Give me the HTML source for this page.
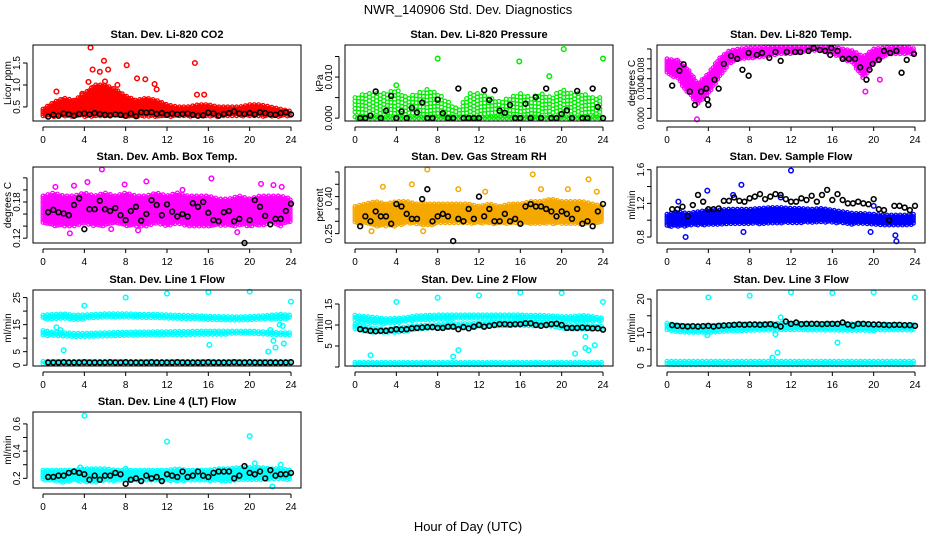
<!DOCTYPE html>
<html><head><meta charset="utf-8"><style>
html,body{margin:0;padding:0;background:#fff;}
svg{display:block;font-family:"Liberation Sans",sans-serif;}
</style></head><body>
<svg id="chart" width="936" height="540" viewBox="0 0 936 540">
<text x="468" y="14" text-anchor="middle" font-size="13">NWR_140906  Std. Dev. Diagnostics</text>
<text x="468" y="531" text-anchor="middle" font-size="13">Hour of Day (UTC)</text>
</svg>
<script>
// ---- data (hourly band limits 0..24, outliers, black half-hourly points) ----
const xTicks = [0,4,8,12,16,20,24];
const halfHours = [0.5,1,1.5,2,2.5,3,3.5,4,4.5,5,5.5,6,6.5,7,7.5,8,8.5,9,9.5,10,10.5,11,11.5,12,12.5,13,13.5,14,14.5,15,15.5,16,16.5,17,17.5,18,18.5,19,19.5,20,20.5,21,21.5,22,22.5,23,23.5,24];

const co2Lo = [0.28,0.28,0.28,0.28,0.28,0.28,0.28,0.28,0.28,0.28,0.28,0.28,0.28,0.28,0.28,0.28,0.28,0.28,0.28,0.28,0.28,0.28,0.28,0.28,0.28];
const co2Hi = [0.45,0.6,0.7,0.65,0.8,1.0,1.0,0.9,0.75,0.65,0.7,0.65,0.55,0.5,0.5,0.55,0.55,0.5,0.5,0.5,0.55,0.55,0.5,0.45,0.4];
const co2OutX = [1.3,4.6,4.8,5.5,5.9,6.3,8.1,9.1,9.9,10.8,14.7,14.9,15.6,11,3.8,4.4,6.0,7.2];
const co2OutY = [0.85,1.85,1.35,1.3,1.55,1.35,1.45,1.15,1.13,1.02,1.5,0.78,0.78,0.9,0.8,1.07,1.08,1.0];
const co2Black = [0.28,0.32,0.30,0.35,0.33,0.30,0.34,0.35,0.33,0.36,0.34,0.32,0.31,0.33,0.32,0.30,0.35,0.29,0.38,0.37,0.38,0.34,0.36,0.32,0.35,0.33,0.34,0.35,0.32,0.30,0.31,0.37,0.35,0.30,0.34,0.36,0.40,0.35,0.34,0.36,0.33,0.38,0.36,0.33,0.32,0.36,0.38,0.33];

const presLo = [0.0008,0.0008,0.0008,0.0008,0.0008,0.0008,0.0008,0.0008,0.0008,0.0008,0.0008,0.0008,0.0008,0.0008,0.0008,0.0008,0.0008,0.0008,0.0008,0.0008,0.0008,0.0008,0.0008,0.0008,0.0008];
const presHi = [0.005,0.006,0.006,0.006,0.007,0.005,0.006,0.007,0.006,0.004,0.002,0.006,0.006,0.005,0.004,0.005,0.006,0.005,0.006,0.005,0.007,0.006,0.006,0.005,0.005];
const presBaseLo = [-0.0002,-0.0002,-0.0002,-0.0002,-0.0002,-0.0002,-0.0002,-0.0002,-0.0002,-0.0002,-0.0002,-0.0002,-0.0002,-0.0002,-0.0002,-0.0002,-0.0002,-0.0002,-0.0002,-0.0002,-0.0002,-0.0002,-0.0002,-0.0002,-0.0002];
const presBaseHi = [0.0003,0.0003,0.0003,0.0003,0.0003,0.0003,0.0003,0.0003,0.0003,0.0003,0.0003,0.0003,0.0003,0.0003,0.0003,0.0003,0.0003,0.0003,0.0003,0.0003,0.0003,0.0003,0.0003,0.0003,0.0003];
const presOutX = [8,15.9,18.8,20.2,24,4];
const presOutY = [0.0145,0.0138,0.0102,0.0168,0.0145,0.008];
const presBlack = [0,0,0.0006,0.0065,0,0.0018,0.0054,0,0.0016,0,0.0025,0.0014,0.0038,0,0,0.0045,0.0012,0,0,0.0072,0,0,0,0,0.0068,0.0044,0.0068,0.0018,0.0013,0.0032,0,0,0.0035,0,0.0051,0,0.0072,0,0,0.0010,0.0019,0,0.0066,0,0,0.0072,0.0027,0];

const tempLo = [4.5,4.0,2.5,1.5,2.5,4.0,5.5,6.0,6.0,6.2,6.3,6.5,6.5,6.6,6.8,6.8,6.5,6.0,5.5,4.0,5.5,6.3,6.5,6.5,6.5];
const tempHi = [6.0,5.8,5.0,3.5,4.5,6.0,6.8,7.0,7.1,7.1,7.2,7.2,7.2,7.2,7.2,7.2,7.2,7.0,6.8,6.2,7.0,7.1,7.2,7.2,7.0];
const tempOutX = [2.9,19.2,20.6,0.2,1.0];
const tempOutY = [-0.1,2.7,3.9,5.5,5.8];
const tempBlackX = [0.5,1.2,1.6,2.2,2.7,3.3,3.8,3.9,4.0,4.6,5.0,5.5,6.2,6.8,7.3,7.9,7.9,8.7,9.2,9.9,10.5,11.0,11.6,12.4,12.9,13.7,14.2,14.8,15.3,15.8,15.9,16.5,17.0,17.6,18.2,18.7,19.3,19.6,19.9,20.5,21.0,21.6,22.2,22.7,23.2,23.9];
const tempBlackY = [3.3,4.8,5.45,2.7,1.35,2.7,3.0,1.9,1.35,3.9,3.0,5.5,6.3,6.0,4.9,4.3,6.6,6.4,6.6,6.1,6.7,5.8,6.7,6.7,6.7,6.8,7.1,6.9,6.8,6.4,7.1,6.8,6.0,6.0,6.0,5.15,3.9,4.9,5.5,5.9,6.8,6.6,6.8,4.6,5.9,6.5];

const ambLo = [0.145,0.14,0.14,0.14,0.145,0.14,0.14,0.145,0.14,0.14,0.14,0.145,0.14,0.145,0.14,0.14,0.14,0.14,0.14,0.14,0.14,0.14,0.145,0.14,0.145];
const ambHi = [0.19,0.195,0.19,0.19,0.195,0.19,0.195,0.19,0.195,0.19,0.19,0.195,0.19,0.195,0.19,0.19,0.19,0.185,0.185,0.19,0.185,0.19,0.19,0.19,0.185];
const ambOutX = [5.7,10.0,16.3,2.6,21.1,22.3,1.2,4.3,7.9,3.0,13.5,18.8,6.6,23.1,9.2,0.3];
const ambOutY = [0.234,0.214,0.219,0.128,0.21,0.208,0.205,0.213,0.209,0.207,0.2,0.13,0.135,0.205,0.133,0.15];
const ambBlack = [0.163,0.167,0.163,0.161,0.158,0.175,0.186,0.135,0.168,0.168,0.182,0.168,0.165,0.170,0.158,0.150,0.165,0.172,0.149,0.160,0.183,0.175,0.158,0.176,0.164,0.156,0.160,0.156,0.178,0.172,0.180,0.162,0.150,0.148,0.163,0.165,0.148,0.152,0.112,0.150,0.183,0.172,0.157,0.143,0.152,0.152,0.165,0.177];

const rhLo = [0.29,0.29,0.28,0.28,0.28,0.29,0.29,0.28,0.29,0.29,0.29,0.29,0.29,0.29,0.29,0.29,0.29,0.29,0.29,0.29,0.29,0.29,0.29,0.29,0.3];
const rhHi = [0.36,0.37,0.38,0.37,0.38,0.38,0.37,0.37,0.37,0.37,0.37,0.37,0.36,0.37,0.36,0.37,0.37,0.38,0.38,0.39,0.38,0.38,0.38,0.37,0.36];
const rhOutX = [7.0,5.5,17.2,22.6,1.6,2.7,10.0,12.6,18.0,20.6,23.4,6.6];
const rhOutY = [0.51,0.45,0.49,0.47,0.26,0.44,0.43,0.42,0.43,0.43,0.42,0.26];
const rhBlack = [0.28,0.32,0.30,0.34,0.32,0.32,0.29,0.37,0.36,0.33,0.31,0.31,0.39,0.43,0.30,0.32,0.33,0.32,0.22,0.31,0.30,0.35,0.31,0.40,0.32,0.35,0.30,0.30,0.33,0.30,0.31,0.29,0.36,0.37,0.36,0.36,0.35,0.34,0.32,0.34,0.33,0.31,0.35,0.29,0.30,0.28,0.34,0.37];

const flowLo = [0.93,0.92,0.93,0.94,0.94,0.95,0.95,0.95,0.96,0.95,0.96,0.96,0.97,0.97,0.97,0.97,0.97,0.96,0.95,0.95,0.94,0.94,0.94,0.94,0.94];
const flowHi = [1.07,1.1,1.08,1.1,1.12,1.12,1.13,1.13,1.13,1.14,1.15,1.15,1.14,1.14,1.13,1.14,1.12,1.1,1.08,1.08,1.07,1.06,1.06,1.06,1.07];
const flowOutX = [7.2,3.9,12.0,1.8,22.1,22.2,7.4,19.7,1.1,6.4,20.0,11.0];
const flowOutY = [1.42,1.35,1.59,0.8,0.82,0.75,0.86,0.86,1.22,1.3,1.17,1.27];
const flowBlack = [1.13,1.13,1.16,1.05,1.18,1.30,1.22,1.13,1.13,1.14,1.23,1.23,1.27,1.23,1.22,1.26,1.28,1.31,1.25,1.28,1.31,1.30,1.25,1.22,1.22,1.26,1.24,1.29,1.22,1.30,1.36,1.24,1.31,1.24,1.20,1.20,1.22,1.20,1.19,1.25,1.13,1.12,1.00,1.17,1.17,1.15,1.12,1.17];

const l1UpLo = [17.0,17.0,17.2,16.5,17.0,17.3,17.5,17.6,17.6,17.6,17.5,17.4,17.3,17.2,17.0,16.9,16.7,16.5,16.5,16.5,16.6,16.8,16.8,17.0,17.0];
const l1UpHi = [18.5,18.8,19.0,18.5,18.6,18.8,19.0,19.0,19.0,18.9,18.8,18.8,18.6,18.5,18.4,18.3,18.1,18.0,17.9,17.9,18.0,18.2,18.5,18.8,18.5];
const l1MidLo = [11.0,10.8,10.5,10.5,10.5,10.6,10.7,10.8,10.9,11.0,11.0,11.1,11.1,11.2,11.2,11.3,11.3,11.3,11.4,11.4,11.4,11.2,11.0,10.8,10.8];
const l1MidHi = [12.8,12.2,12.0,11.8,11.8,11.9,12.0,12.1,12.2,12.3,12.3,12.4,12.4,12.5,12.5,12.6,12.6,12.6,12.6,12.6,12.6,12.4,12.2,12.0,12.0];
const l1BaseLo = [0.4,0.4,0.4,0.4,0.4,0.4,0.4,0.4,0.4,0.4,0.4,0.4,0.4,0.4,0.4,0.4,0.4,0.4,0.4,0.4,0.4,0.4,0.4,0.4,0.4];
const l1BaseHi = [1.4,1.4,1.4,1.4,1.4,1.4,1.4,1.4,1.4,1.4,1.4,1.4,1.4,1.4,1.4,1.4,1.4,1.4,1.4,1.4,1.4,1.4,1.4,1.4,1.4];
const l1OutX = [4,8,12,16,20,24,2,1.3,16.1,21.8,22.3,22.5,22.9,23.3,23.2,22.0,1.7];
const l1OutY = [22,25,26.5,27,27.2,23.5,5.5,14,7.5,5,9,6.5,15,8,14.5,13,13];
const l1Black = [1,1,1,1.1,1,1,1,1.1,1,1,1,1,1.1,1,1,1.1,1,1,1,1,1.1,1,1,1,1,1.1,1,1,1,1,1,1.1,1,1,1,1,1.1,1,1,1.1,1,1,1,1,1,1,1,1.1];

const l2UpLo = [11.0,10.5,10.3,10.2,10.5,10.8,11.0,11.2,11.3,11.3,11.4,11.4,11.4,11.4,11.4,11.4,11.3,11.3,11.3,11.2,11.0,10.8,10.8,10.8,10.8];
const l2UpHi = [12.3,12.0,11.8,11.5,11.6,11.8,12.2,12.3,12.4,12.4,12.4,12.4,12.4,12.4,12.4,12.4,12.4,12.3,12.3,12.2,12.0,12.0,12.3,12.0,11.6];
const l2LowLo = [9.0,8.4,8.2,8.1,8.2,8.5,8.8,9.0,9.1,9.2,9.3,9.4,9.5,9.6,9.6,9.6,9.7,9.6,9.6,9.5,9.0,9.0,9.0,9.0,9.0];
const l2LowHi = [10.2,9.6,9.2,9.0,9.3,9.6,9.8,10.0,10.1,10.2,10.3,10.3,10.5,10.6,10.6,10.6,10.7,10.6,10.6,10.5,10.0,9.8,9.8,9.8,9.6];
const l2BaseLo = [0.4,0.4,0.4,0.4,0.4,0.4,0.4,0.4,0.4,0.4,0.4,0.4,0.4,0.4,0.4,0.4,0.4,0.4,0.4,0.4,0.4,0.4,0.4,0.4,0.4];
const l2BaseHi = [1.1,1.1,1.1,1.1,1.1,1.1,1.1,1.1,1.1,1.1,1.1,1.1,1.1,1.1,1.1,1.1,1.1,1.1,1.1,1.1,1.1,1.1,1.1,1.1,1.1];
const l2OutX = [1.5,4,8,12,16,20,24,10,9.5,21.3,22.3,22.3,22.6,23.2];
const l2OutY = [2.8,15.5,16.5,17,17.7,17.6,15.5,4,2.5,3.2,4.5,7.2,4,5.2];
const l2Black = [9.0,8.8,8.6,8.5,8.6,8.6,8.8,9.0,8.9,9.0,9.2,9.3,9.4,9.5,9.5,9.3,9.3,9.6,9.6,9.0,9.5,9.2,9.6,10.0,9.6,9.8,10.0,10.2,10.2,10.1,10.2,10.2,10.4,10.4,10.0,9.8,10.0,10.2,10.3,10.0,9.3,9.3,9.3,9.4,9.3,9.2,9.2,8.9];

const l3BandLo = [10.5,10.0,9.8,9.8,9.9,10.0,10.2,10.4,10.5,10.5,10.6,10.7,10.7,10.7,10.6,10.6,10.6,10.6,10.6,10.6,10.5,10.5,10.5,10.5,10.5];
const l3BandHi = [12.8,12.2,12.0,12.0,12.0,12.2,12.4,12.5,12.6,12.7,12.7,12.8,12.8,12.8,12.7,12.7,12.7,12.6,12.6,12.6,12.5,12.4,12.4,12.4,12.3];
const l3BaseLo = [0.3,0.3,0.3,0.3,0.3,0.3,0.3,0.3,0.3,0.3,0.3,0.3,0.3,0.3,0.3,0.3,0.3,0.3,0.3,0.3,0.3,0.3,0.3,0.3,0.3];
const l3BaseHi = [1.4,1.4,1.4,1.4,1.4,1.4,1.4,1.4,1.4,1.4,1.4,1.4,1.4,1.4,1.4,1.4,1.4,1.4,1.4,1.4,1.4,1.4,1.4,1.4,1.4];
const l3OutX = [4,8,12,16,20,24,10.5,10.7,10.2,16.5,3.9,11.0];
const l3OutY = [20.5,21,22,21.8,22,20.5,9.5,4,2.5,7,9.2,14.5];
const l3Black = [12.2,12.0,11.9,11.8,11.9,11.8,11.9,12.0,11.8,12.0,12.1,12.2,12.3,12.4,12.3,12.4,12.4,12.3,12.4,12.5,12.2,11.8,13.3,12.6,13.0,12.5,12.6,12.6,12.6,12.5,12.6,12.6,12.6,13.0,12.4,12.1,12.6,12.6,12.5,12.4,12.4,12.3,12.2,12.3,12.3,12.2,12.2,12.0];

const l4Lo = [0.18,0.18,0.17,0.18,0.17,0.17,0.18,0.18,0.18,0.18,0.18,0.18,0.18,0.18,0.18,0.18,0.18,0.18,0.18,0.19,0.19,0.19,0.19,0.19,0.19];
const l4Hi = [0.26,0.26,0.26,0.26,0.27,0.27,0.27,0.26,0.26,0.26,0.26,0.26,0.26,0.27,0.26,0.26,0.26,0.27,0.27,0.28,0.28,0.28,0.27,0.27,0.26];
const l4OutX = [4,12,20,22.2,23,20.5,3.6,8.0];
const l4OutY = [0.66,0.47,0.51,0.14,0.3,0.31,0.28,0.27];
const l4Black = [0.21,0.21,0.22,0.22,0.24,0.25,0.24,0.23,0.19,0.22,0.19,0.22,0.22,0.24,0.23,0.16,0.19,0.20,0.18,0.22,0.20,0.21,0.18,0.23,0.22,0.21,0.25,0.21,0.22,0.25,0.22,0.21,0.24,0.25,0.25,0.25,0.20,0.22,0.29,0.24,0.23,0.25,0.20,0.26,0.22,0.23,0.23,0.24];

// ---- layout ----
const svg = document.getElementById('chart');
const NS = 'http://www.w3.org/2000/svg';
const rowTops = [45,167,290,412];
const PH = 76, PW = 268;

const panels = [
 {name:'co2', title:'Stan. Dev. Li-820 CO2', ylab:'Licor ppm', col:0,row:0, dom:[0.18,1.91], ticks:[0.5,1.0,1.5], labs:['0.5','1.0','1.5'], labAt:[0.5,1.0,1.5], color:'#ff0000',
  clouds:[[co2Lo,co2Hi,2.2]], outX:co2OutX, outY:co2OutY, bX:halfHours, bY:co2Black},
 {name:'pressure', title:'Stan. Dev. Li-820 Pressure', ylab:'kPa', col:1,row:0, dom:[-0.0007,0.0178], ticks:[0,0.005,0.010,0.015], labs:['0.000','0.010'], labAt:[0,0.010], color:'#00ee00',
  clouds:[[presLo,presHi,3.6],[presBaseLo,presBaseHi,2.2]], outX:presOutX, outY:presOutY, bX:halfHours, bY:presBlack},
 {name:'temp', title:'Stan. Dev. Li-820 Temp.', ylab:'degrees C', col:2,row:0, dom:[-0.27,7.4], ticks:[0,1,2,3,4,5,6,7], labs:['0.000','0.004','0.008'], labAt:[0,3,5], color:'#ff00ff',
  clouds:[[tempLo,tempHi,2.2]], outX:tempOutX, outY:tempOutY, bX:tempBlackX, bY:tempBlackY},
 {name:'amb-box', title:'Stan. Dev. Amb. Box Temp.', ylab:'degrees C', col:0,row:1, dom:[0.112,0.238], ticks:[0.12,0.14,0.16,0.18,0.20,0.22], labs:['0.12','0.18'], labAt:[0.12,0.18], color:'#ff00ff',
  clouds:[[ambLo,ambHi,2.4]], outX:ambOutX, outY:ambOutY, bX:halfHours, bY:ambBlack},
 {name:'rh', title:'Stan. Dev. Gas Stream RH', ylab:'percent', col:1,row:1, dom:[0.212,0.52], ticks:[0.25,0.30,0.35,0.40,0.45,0.50], labs:['0.25','0.40'], labAt:[0.25,0.40], color:'#f5a800',
  clouds:[[rhLo,rhHi,2.2]], outX:rhOutX, outY:rhOutY, bX:halfHours, bY:rhBlack},
 {name:'sample-flow', title:'Stan. Dev. Sample Flow', ylab:'ml/min', col:2,row:1, dom:[0.729,1.632], ticks:[0.8,1.0,1.2,1.4,1.6], labs:['0.8','1.2','1.6'], labAt:[0.8,1.2,1.6], color:'#0000ff',
  clouds:[[flowLo,flowHi,2.2]], outX:flowOutX, outY:flowOutY, bX:halfHours, bY:flowBlack},
 {name:'line1', title:'Stan. Dev. Line 1 Flow', ylab:'ml/min', col:0,row:2, dom:[-0.3,27.8], ticks:[0,5,10,15,20,25], labs:['0','5','15','25'], labAt:[0,5,15,25], color:'#00ffff',
  clouds:[[l1UpLo,l1UpHi,2.2],[l1MidLo,l1MidHi,2.2],[l1BaseLo,l1BaseHi,2.2]], outX:l1OutX, outY:l1OutY, bX:halfHours, bY:l1Black},
 {name:'line2', title:'Stan. Dev. Line 2 Flow', ylab:'ml/min', col:1,row:2, dom:[0.24,18.33], ticks:[0,5,10,15], labs:['5','10','15'], labAt:[5,10,15], color:'#00ffff',
  clouds:[[l2UpLo,l2UpHi,2.2],[l2LowLo,l2LowHi,2.2],[l2BaseLo,l2BaseHi,2.2]], outX:l2OutX, outY:l2OutY, bX:halfHours, bY:l2Black},
 {name:'line3', title:'Stan. Dev. Line 3 Flow', ylab:'ml/min', col:2,row:2, dom:[0,22.7], ticks:[0,5,10,15,20], labs:['0','5','10','20'], labAt:[0,5,10,20], color:'#00ffff',
  clouds:[[l3BandLo,l3BandHi,2.2],[l3BaseLo,l3BaseHi,2.2]], outX:l3OutX, outY:l3OutY, bX:halfHours, bY:l3Black},
 {name:'line4', title:'Stan. Dev. Line 4 (LT) Flow', ylab:'ml/min', col:0,row:3, dom:[0.129,0.6875], ticks:[0.2,0.3,0.4,0.5,0.6], labs:['0.2','0.4','0.6'], labAt:[0.2,0.4,0.6], color:'#00ffff',
  clouds:[[l4Lo,l4Hi,2.2]], outX:l4OutX, outY:l4OutY, bX:halfHours, bY:l4Black}
];

function mk(tag, attrs, parent){
  const e = document.createElementNS(NS, tag);
  for (const k in attrs) e.setAttribute(k, attrs[k]);
  (parent||svg).appendChild(e);
  return e;
}
function interp(arr, h){
  const i = Math.max(0, Math.min(23, Math.floor(h)));
  const f = h - i;
  return arr[i]*(1-f) + arr[i+1]*f;
}

panels.forEach(p => {
  const L = 33 + p.col*312, T = rowTops[p.row], B = T + PH, R = L + PW;
  const xs = h => L + 10 + h*(248/24);
  const ys = v => B - (v - p.dom[0])/(p.dom[1]-p.dom[0])*PH;
  const g = mk('g', {});
  
  

  const title = mk('text', {x:(L+R)/2, y:T-7, 'text-anchor':'middle', 'font-size':'11', 'font-weight':'bold'}, g);
  title.textContent = p.title;
  
  

  const yl = mk('text', {x:0, y:0, 'text-anchor':'middle', 'font-size':'10', transform:'translate('+(L-22)+','+((T+B)/2)+') rotate(-90)'}, g);
  yl.textContent = p.ylab;
  
  

  // clouds
  const cg = mk('g', {fill:'none', stroke:p.color, 'stroke-width':'1.2'}, g);
  
  
  p.clouds.forEach(c => {
    const lo = c[0], hi = c[1], st = c[2];
    let k = 0;
    for (let px = xs(0); px <= xs(24); px += st, k++){
      const h = (px - xs(0))/(248/24);
      const yTop = Math.max(T+2, ys(interp(hi, h))), yBot = ys(interp(lo, h));
      for (let py = yTop + ((k%2)*st/2); py <= yBot; py += st){
        const pt = mk('circle', {cx:px.toFixed(1), cy:py.toFixed(1), r:'1.9'}, cg);
        
        
      }
    }
  });
  // outliers
  p.outX.forEach((h,i) => {
    const pt = mk('circle', {cx:xs(h), cy:ys(p.outY[i]), r:'2.3', fill:'none', stroke:p.color, 'stroke-width':'1.5'}, g);
    
    
  });
  // black points
  p.bX.forEach((h,i) => {
    const pt = mk('circle', {cx:xs(h), cy:ys(p.bY[i]), r:'2.4', fill:'none', stroke:'#000', 'stroke-width':'1.6'}, g);
    
    
  });

  // frame
  const fr = mk('rect', {x:L, y:T, width:PW, height:PH, fill:'none', stroke:'#000', 'stroke-width':'1'}, g);
  
  

  // x axis
  mk('line', {x1:xs(0), x2:xs(24), y1:B+6, y2:B+6, stroke:'#000'}, g);
  xTicks.forEach(t => {
    mk('line', {x1:xs(t), x2:xs(t), y1:B+6, y2:B+10, stroke:'#000'}, g);
    const tx = mk('text', {x:xs(t), y:B+22, 'text-anchor':'middle', 'font-size':'10'}, g);
    tx.textContent = t;
    
    
  });
  // y axis
  const yt0 = ys(p.ticks[0]), yt1 = ys(p.ticks[p.ticks.length-1]);
  mk('line', {x1:L-6, x2:L-6, y1:yt0, y2:yt1, stroke:'#000'}, g);
  p.ticks.forEach(t => {
    mk('line', {x1:L-10, x2:L-6, y1:ys(t), y2:ys(t), stroke:'#000'}, g);
  });
  p.labs.forEach((s,i) => {
    const y = ys(p.labAt[i]);
    const tx = mk('text', {x:0, y:0, 'text-anchor':'middle', 'font-size':(p.name==='temp'?'9':'10'), transform:'translate('+(L-13)+','+y+') rotate(-90)'}, g);
    tx.textContent = s;
    
    
  });
});
</script>
</body></html>
